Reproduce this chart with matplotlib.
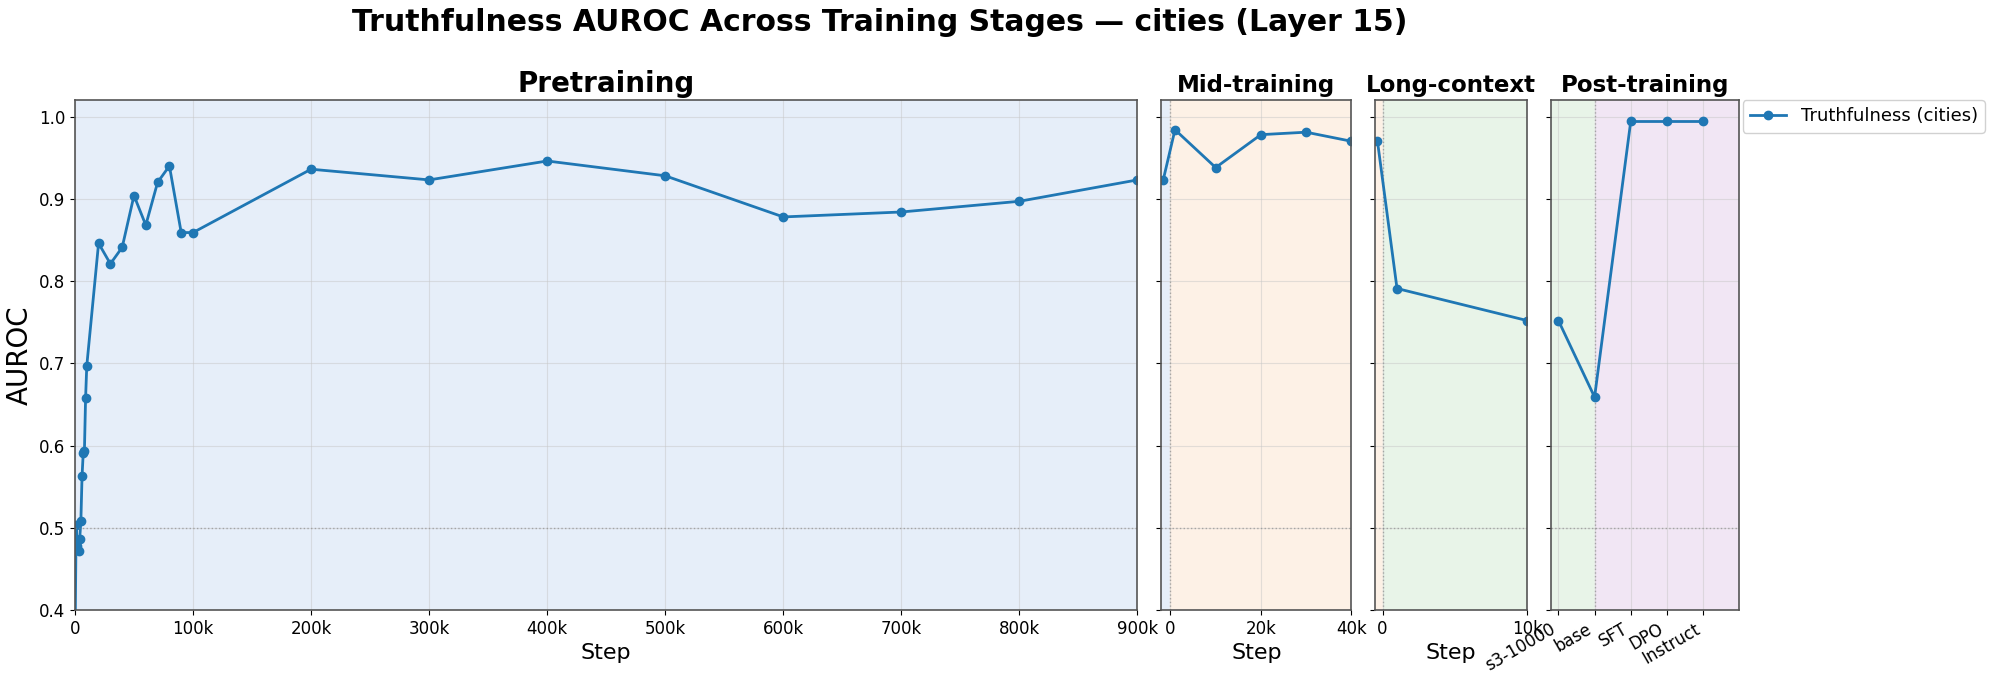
import matplotlib
matplotlib.use("Agg")
import matplotlib.pyplot as plt
from matplotlib.ticker import FuncFormatter, MultipleLocator

# ---------------- data ----------------
pre_steps = [0, 1000, 2000, 3000, 4000, 5000, 6000, 7000, 8000, 9000, 10000,
             20000, 30000, 40000, 50000, 60000, 70000, 80000, 90000, 100000,
             200000, 300000, 400000, 500000, 600000, 700000, 800000, 900000]
pre_auroc = [0.35, 0.504, 0.478, 0.472, 0.487, 0.508, 0.563, 0.591, 0.593, 0.658, 0.697,
             0.846, 0.821, 0.841, 0.904, 0.868, 0.920, 0.940, 0.859, 0.859,
             0.936, 0.923, 0.946, 0.928, 0.878, 0.884, 0.897, 0.923]

mid_steps = [1000, 10000, 20000, 30000, 40000]
mid_auroc = [0.984, 0.938, 0.978, 0.981, 0.970]

long_steps = [1000, 10000]
long_auroc = [0.791, 0.752]

post_labels = ["s3-10000", "base", "SFT", "DPO", "Instruct"]
post_auroc = [0.752, 0.659, 0.994, 0.994, 0.994]

stage_titles = ["Pretraining", "Mid-training", "Long-context", "Post-training"]
stage_colors = ["#e6eef9", "#fdf1e6", "#e8f4e8", "#f1e6f4"]
line_color = "#1f77b4"
series_label = "Truthfulness (cities)"

# ---------------- figure ----------------
fig = plt.figure(figsize=(19.99, 6.81), dpi=100)
bottom, top = 0.104, 0.853
h = top - bottom
lefts_rights = [(0.0375, 0.569), (0.581, 0.676), (0.688, 0.764), (0.776, 0.870)]
axes = []
for i, (l, r) in enumerate(lefts_rights):
    ax = fig.add_axes([l, bottom, r - l, h], sharey=axes[0] if axes else None)
    axes.append(ax)

def kfmt(x, pos):
    if abs(x) < 1e-9:
        return "0"
    return f"{int(round(x / 1000))}k"

line_kw = dict(color=line_color, lw=2, marker="o", ms=6)

def style(ax):
    ax.grid(True, color="#c8c8c8", alpha=0.5, lw=0.8)
    ax.axhline(0.5, color="gray", ls=":", lw=1, alpha=0.6)
    for s in ax.spines.values():
        s.set_color("#555555")
        s.set_linewidth(1.2)
    ax.tick_params(labelsize=12)
    ax.set_axisbelow(True)

# Pretraining
ax = axes[0]
ax.axvspan(0, pre_steps[-1], color=stage_colors[0], zorder=0)
ax.plot(pre_steps, pre_auroc, label=series_label, **line_kw)
ax.set_xlim(0, pre_steps[-1])
ax.xaxis.set_major_locator(MultipleLocator(100000))
ax.xaxis.set_major_formatter(FuncFormatter(kfmt))
ax.set_xlabel("Step", fontsize=16)
ax.set_ylabel("AUROC", fontsize=20)
ax.set_title(stage_titles[0], fontsize=20, fontweight="bold")
style(ax)

# Mid-training
ax = axes[1]
span = mid_steps[-1]
x0 = -0.04 * span
ax.axvspan(-0.05 * span, 0, color=stage_colors[0], zorder=0)
ax.axvspan(0, span, color=stage_colors[1], zorder=0)
ax.axvline(0, color="gray", ls=":", lw=1, alpha=0.6)
ax.plot([x0] + mid_steps, [pre_auroc[-1]] + mid_auroc, **line_kw)
ax.set_xlim(-0.05 * span, span)
ax.xaxis.set_major_locator(MultipleLocator(20000))
ax.xaxis.set_major_formatter(FuncFormatter(kfmt))
ax.set_xlabel("Step", fontsize=16)
ax.set_title(stage_titles[1], fontsize=16.5, fontweight="bold")
style(ax)
ax.tick_params(labelleft=False)

# Long-context
ax = axes[2]
span = long_steps[-1]
x0 = -0.035 * span
ax.axvspan(-0.05 * span, 0, color=stage_colors[1], zorder=0)
ax.axvspan(0, span, color=stage_colors[2], zorder=0)
ax.axvline(0, color="gray", ls=":", lw=1, alpha=0.6)
ax.plot([x0] + long_steps, [mid_auroc[-1]] + long_auroc, **line_kw)
ax.set_xlim(-0.05 * span, span)
ax.xaxis.set_major_locator(MultipleLocator(10000))
ax.xaxis.set_major_formatter(FuncFormatter(kfmt))
ax.set_xlabel("Step", fontsize=16)
ax.set_title(stage_titles[2], fontsize=16.5, fontweight="bold")
style(ax)
ax.tick_params(labelleft=False)

# Post-training
ax = axes[3]
xs = list(range(len(post_labels)))
ax.axvspan(-0.2, 1, color=stage_colors[2], zorder=0)
ax.axvspan(1, len(post_labels), color=stage_colors[3], zorder=0)
ax.axvline(1, color="gray", ls=":", lw=1, alpha=0.6)
ax.plot(xs, post_auroc, **line_kw)
ax.set_xlim(-0.2, len(post_labels))
ax.set_xticks(xs)
ax.set_xticklabels(post_labels, rotation=30, ha="right")
ax.set_title(stage_titles[3], fontsize=16.5, fontweight="bold")
style(ax)
ax.tick_params(labelleft=False)

axes[0].set_ylim(0.4, 1.02)
axes[0].yaxis.set_major_locator(MultipleLocator(0.1))

handles, labels = axes[0].get_legend_handles_labels()
axes[3].legend(handles, labels, loc="upper left", bbox_to_anchor=(1.02, 1.0),
               borderaxespad=0.0, fontsize=13, framealpha=0.9)

fig.suptitle("Truthfulness AUROC Across Training Stages \u2014 cities (Layer 15)",
             fontsize=21.5, fontweight="bold", x=0.44, y=0.988)

fig.savefig("out.png", dpi=100)
